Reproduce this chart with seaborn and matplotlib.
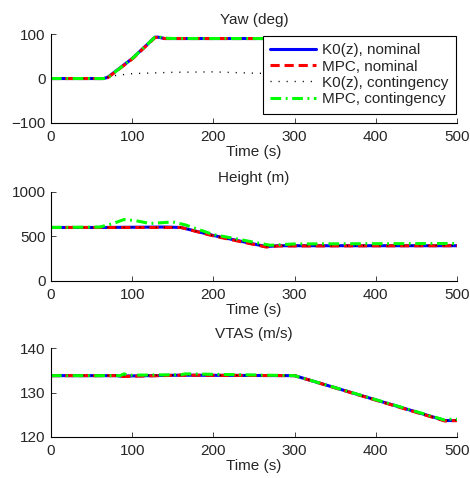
import numpy as np
import pandas as pd
import matplotlib
matplotlib.use("Agg")
import matplotlib.pyplot as plt
import seaborn as sns

# Yaw (deg)
yaw_t_nom = [0, 65, 70, 100, 128, 132, 140, 150, 500]
yaw_k0_nom = [0, 0, 3, 45, 93, 93, 90, 90, 90]
yaw_mpc_nom = [0, 0, 2, 44, 92, 93, 90, 90, 90]
yaw_mpc_cont = [0, 0, 2, 45, 93, 94, 91, 90, 90]
yaw_t_cont = [0, 65, 75, 100, 150, 200, 250, 300, 350, 400, 450, 500]
yaw_k0_cont = [0, 0, 6, 11, 14, 15, 12, 10, 7, 4, 2, 0]

# Height (m)
h_t_nom = [0, 60, 140, 160, 200, 265, 280, 500]
h_k0_nom = [600, 600, 605, 600, 510, 385, 395, 395]
h_mpc_nom = [600, 600, 600, 600, 505, 380, 392, 395]
h_k0_cont = [600, 600, 603, 600, 508, 385, 395, 396]
h_t_cont = [0, 60, 75, 90, 105, 122, 150, 165, 200, 270, 300, 500]
h_mpc_cont = [600, 605, 640, 690, 675, 645, 662, 630, 520, 400, 415, 420]

# VTAS (m/s)
v_t_nom = [0, 80, 85, 160, 300, 485, 500]
v_k0_nom = [133.8, 133.8, 133.7, 133.9, 133.8, 123.7, 123.7]
v_mpc_nom = [133.8, 133.8, 133.6, 133.9, 133.8, 123.6, 123.7]
v_k0_cont = [133.8, 133.8, 133.8, 133.9, 133.8, 123.7, 123.8]
v_t_cont = [0, 85, 90, 95, 160, 165, 300, 485, 490, 500]
v_mpc_cont = [133.8, 133.8, 134.2, 133.9, 134.0, 134.2, 133.8, 123.8, 124.0, 124.0]

labels = ["K0(z), nominal", "MPC, nominal", "K0(z), contingency", "MPC, contingency"]
colors = ["#0000ff", "#ff0000", "#000000", "#00ff00"]
styles = ["-", (0, (3.0, 1.6)), (0, (0.8, 5.0)), (0, (3.5, 1.5, 0.6, 1.5))]
widths = [2.2, 2.2, 1.0, 2.2]

sns.set_style("ticks")
plt.rcParams["font.family"] = ["Liberation Sans", "DejaVu Sans"]
plt.rcParams["font.size"] = 11
plt.rcParams["xtick.direction"] = "in"
plt.rcParams["ytick.direction"] = "in"

fig = plt.figure(figsize=(4.7, 4.78), dpi=100)
ax1 = fig.add_axes([0.1085, 0.7427, 0.864, 0.186])
ax2 = fig.add_axes([0.1085, 0.4125, 0.864, 0.186])
ax3 = fig.add_axes([0.1085, 0.0858, 0.864, 0.186])

panels = [
    (ax1, "Yaw (deg)", [(yaw_t_nom, yaw_k0_nom), (yaw_t_nom, yaw_mpc_nom),
                        (yaw_t_cont, yaw_k0_cont), (yaw_t_nom, yaw_mpc_cont)],
     (-100, 100), [-100, 0, 100]),
    (ax2, "Height (m)", [(h_t_nom, h_k0_nom), (h_t_nom, h_mpc_nom),
                         (h_t_nom, h_k0_cont), (h_t_cont, h_mpc_cont)],
     (0, 1000), [0, 500, 1000]),
    (ax3, "VTAS (m/s)", [(v_t_nom, v_k0_nom), (v_t_nom, v_mpc_nom),
                         (v_t_nom, v_k0_cont), (v_t_cont, v_mpc_cont)],
     (120, 140), [120, 130, 140]),
]

for ax, title, series, ylim, yticks in panels:
    for (t, y), lab, c, ls, lw in zip(series, labels, colors, styles, widths):
        sns.lineplot(x=t, y=y, ax=ax, color=c, linestyle=ls, linewidth=lw,
                     label=lab, legend=False)
    ax.set_xlim(0, 500)
    ax.set_ylim(*ylim)
    ax.set_yticks(yticks)
    ax.set_xticks([0, 100, 200, 300, 400, 500])
    ax.set_title(title, fontsize=11, pad=7)
    ax.set_xlabel("Time (s)", fontsize=11, labelpad=1)
    ax.set_ylabel("")
    ax.tick_params(labelsize=11, length=3.5, width=0.6)
    ax.tick_params(axis="x", pad=5)
    ax.tick_params(axis="y", pad=4)
    sns.despine(ax=ax)
    for s in ["left", "bottom"]:
        ax.spines[s].set_linewidth(0.8)
        ax.spines[s].set_color("black")

leg = ax1.legend(loc="upper right", fontsize=11, frameon=True, fancybox=False,
                 framealpha=1, edgecolor="black", borderaxespad=0.1,
                 handlelength=3.0, handletextpad=0.35, labelspacing=0.15,
                 borderpad=0.5)
leg.get_frame().set_linewidth(0.8)

fig.savefig("out.png", dpi=100)
